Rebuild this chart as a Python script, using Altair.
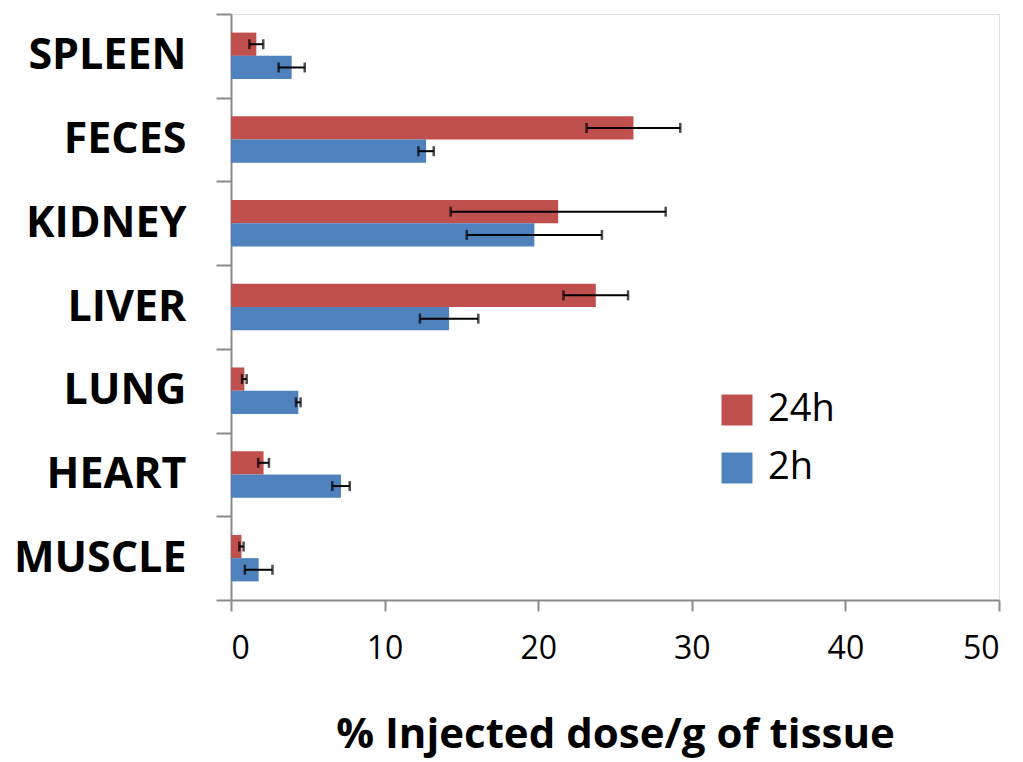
import altair as alt
import pandas as pd

organs = ["SPLEEN", "FECES", "KIDNEY", "LIVER", "LUNG", "HEART", "MUSCLE"]
series = ["24h", "2h"]
v24 = [1.65, 26.2, 21.3, 23.75, 0.87, 2.12, 0.68]
e24 = [0.45, 3.05, 7.0, 2.1, 0.15, 0.35, 0.14]
v2 = [3.95, 12.7, 19.75, 14.2, 4.38, 7.16, 1.8]
e2 = [0.85, 0.5, 4.4, 1.9, 0.15, 0.57, 0.9]
colors = ["#C0504D", "#4F81BD"]

rows = []
for i, o in enumerate(organs):
    rows.append(dict(organ=o, series="24h", value=v24[i], err=e24[i]))
    rows.append(dict(organ=o, series="2h", value=v2[i], err=e2[i]))
df = pd.DataFrame(rows)
df["lo"] = df["value"] - df["err"]
df["hi"] = df["value"] + df["err"]

FONT = "Open Sans"
GRAY = "#8a8a8a"

y = alt.Y("organ:N", sort=organs,
          scale=alt.Scale(paddingInner=0, paddingOuter=0),
          axis=alt.Axis(title=None, tickBand="extent", tickSize=15, tickWidth=2,
                        tickColor=GRAY, domainColor=GRAY, domainWidth=2,
                        labelFont=FONT, labelFontWeight="bold", labelFontSize=43,
                        labelColor="black", labelPadding=30, labelLimit=400))
yoff = alt.YOffset("series:N", sort=series,
                   scale=alt.Scale(domain=series, paddingInner=0, paddingOuter=0.8))
x = alt.X("value:Q", scale=alt.Scale(domain=[0, 50], nice=False),
          axis=alt.Axis(title="% Injected dose/g of tissue", values=[0, 10, 20, 30, 40, 50],
                        grid=False, tickSize=11, tickWidth=2, tickColor=GRAY,
                        domainColor=GRAY, domainWidth=2,
                        labelFont=FONT, labelFontSize=32, labelColor="black",
                        labelPadding=22, titleFont=FONT, titleFontSize=42,
                        titleFontWeight="bold", titleColor="black", titlePadding=50))
color = alt.Color("series:N", sort=series,
                  scale=alt.Scale(domain=series, range=colors),
                  legend=alt.Legend(title=None, orient="none", legendX=487, legendY=377,
                                    symbolType="square", symbolSize=961,
                                    symbolStrokeWidth=0, labelFont=FONT,
                                    labelFontSize=38, labelColor="black",
                                    labelOffset=12, rowPadding=20, padding=0))

bars = alt.Chart(df).mark_bar().encode(x=x, y=y, yOffset=yoff, color=color)
rules = alt.Chart(df).mark_rule(color="black", strokeWidth=2).encode(
    x="lo:Q", x2="hi:Q", y=y, yOffset=yoff)
cap_lo = alt.Chart(df).mark_tick(orient="vertical", size=10, thickness=2.5, color="black").encode(
    x="lo:Q", y=y, yOffset=yoff)
cap_hi = alt.Chart(df).mark_tick(orient="vertical", size=10, thickness=2.5, color="black").encode(
    x="hi:Q", y=y, yOffset=yoff)

chart = alt.layer(bars, rules, cap_lo, cap_hi).properties(
    width=768, height=586,
    autosize=alt.AutoSizeParams(type="none"),
    padding={"left": 223, "top": 6, "right": 16, "bottom": 160},
).configure_view(stroke=GRAY, strokeWidth=2).configure(background="white")

chart.save("out.html", embed_options={"renderer": "svg", "actions": False})
